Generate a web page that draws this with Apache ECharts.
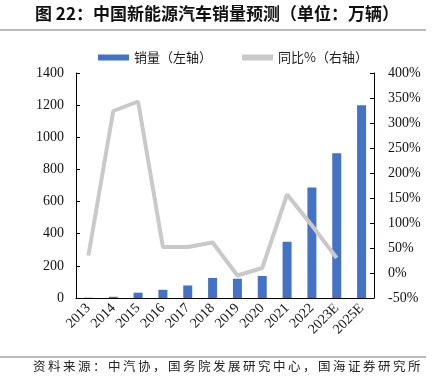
<!DOCTYPE html>
<html>
<head>
<meta charset="utf-8">
<script src="https://cdn.jsdelivr.net/npm/echarts@6/dist/echarts.min.js"></script>
<style>
  html, body { margin: 0; padding: 0; background: #fff; }
  #chart { width: 435px; height: 377px; }
</style>
</head>
<body>
<div id="chart"></div>
<script>
const years = ["2013", "2014", "2015", "2016", "2017", "2018", "2019", "2020", "2021", "2022", "2023E", "2025E"];
const sales = [1.8, 7.5, 33, 51, 78, 125, 120, 137, 350, 688, 900, 1200];
const yoy = [35, 324, 343, 52, 52, 61, -5, 10, 157, 95, 30, null];

const CJK = "'Noto Sans CJK SC', sans-serif";
const SERIF = "'Liberation Serif', 'DejaVu Serif', serif";

// spread characters a bit, like the wide song-style font in the source
function spaced(text) {
  return Array.from(text).join("\u2009");
}

const chart = echarts.init(document.getElementById("chart"), null, { renderer: "canvas" });

chart.setOption({
  animation: false,
  backgroundColor: "#fff",
  graphic: [
    {
      type: "text",
      left: 35,
      top: 5,
      style: {
        text: "图 22：中国新能源汽车销量预测（单位：万辆）",
        font: "bold 17px " + CJK,
        fill: "#111",
      },
    },
    {
      type: "line",
      shape: { x1: 0, y1: 30, x2: 426, y2: 30 },
      style: { stroke: "#777", lineWidth: 1 },
    },
    {
      type: "line",
      shape: { x1: 0, y1: 357, x2: 426, y2: 357 },
      style: { stroke: "#777", lineWidth: 1 },
    },
    {
      type: "text",
      left: 33,
      top: 360,
      style: {
        text: spaced("资料来源：中汽协，国务院发展研究中心，国海证券研究所"),
        font: "12.5px " + CJK,
        fill: "#222",
      },
    },
  ],
  legend: {
    top: 46,
    left: 93,
    itemGap: 30,
    itemWidth: 31,
    itemHeight: 6,
    textStyle: { fontFamily: CJK, fontSize: 13, color: "#222" },
    data: [
      { name: "销量（左轴）", icon: "rect" },
      { name: "同比%（右轴）", icon: "rect" },
    ],
  },
  grid: {
    left: 76,
    right: 61,
    top: 73,
    bottom: 79,
    containLabel: false,
  },
  xAxis: {
    type: "category",
    data: years,
    axisLine: { lineStyle: { color: "#000", width: 1 } },
    axisTick: { show: false },
    axisLabel: {
      rotate: 45,
      interval: 0,
      margin: 8,
      fontFamily: SERIF,
      fontSize: 14,
      color: "#111",
    },
  },
  yAxis: [
    {
      type: "value",
      min: 0,
      max: 1400,
      interval: 200,
      axisLine: { show: true, lineStyle: { color: "#000" } },
      axisTick: { show: true, inside: true, length: 4, lineStyle: { color: "#000" } },
      splitLine: { show: false },
      axisLabel: {
        margin: 12,
        fontFamily: SERIF,
        fontSize: 14,
        color: "#111",
        formatter: (v) => String(v),
      },
    },
    {
      type: "value",
      min: -50,
      max: 400,
      interval: 50,
      axisLine: { show: true, lineStyle: { color: "#000" } },
      axisTick: { show: true, inside: true, length: 4, lineStyle: { color: "#000" } },
      splitLine: { show: false },
      axisLabel: {
        margin: 14,
        fontFamily: SERIF,
        fontSize: 14,
        color: "#111",
        formatter: "{value}%",
      },
    },
  ],
  series: [
    {
      name: "销量（左轴）",
      type: "bar",
      data: sales,
      barWidth: 9,
      itemStyle: { color: "#4472C4" },
    },
    {
      name: "同比%（右轴）",
      type: "line",
      yAxisIndex: 1,
      data: yoy,
      showSymbol: false,
      symbol: "none",
      lineStyle: { color: "#C9C9C9", width: 4 },
      itemStyle: { color: "#C9C9C9" },
    },
  ],
});
</script>
</body>
</html>
